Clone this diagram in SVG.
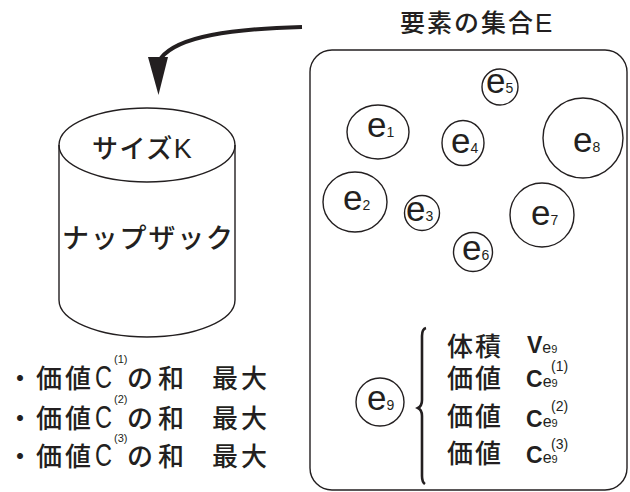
<svg xmlns="http://www.w3.org/2000/svg" width="630" height="492" viewBox="0 0 630 492">
<style>
.ln{fill:none;stroke:#231f20;stroke-width:1.4}
.jp{font-family:"Noto Sans CJK JP","Liberation Sans",sans-serif;font-weight:500;fill:#231f20}
.la{font-family:"Liberation Sans",Arial,sans-serif;fill:#231f20}
.e{font-family:"Liberation Sans",Arial,sans-serif;font-size:35px;fill:#231f20}
.d{font-size:14px}
.b{font-size:23px;font-weight:bold}
.s{font-size:16px;font-weight:normal}
.n{font-size:11px;font-weight:normal}
</style>
<rect width="630" height="492" fill="#fff"/>
<g id="connectors">
<path d="M302 27 C232 29 178 36 161 58" fill="none" stroke="#231f20" stroke-width="4"/>
<polygon points="148,57 168,57 158.5,95" fill="#231f20"/>
</g>
<g id="label-E"><text class="jp" x="400" y="32" font-size="25" letter-spacing="2">要素の集合<tspan class="la" font-weight="normal" font-size="26">E</tspan></text></g>
<g id="knapsack">
<path class="ln" d="M59 145 L59 300 A88 37 0 0 0 235 300 L235 145"/>
<ellipse class="ln" cx="147" cy="145" rx="88" ry="37"/>
<text class="jp" x="92" y="158" font-size="26" letter-spacing="1.5">サイズ<tspan class="la" font-weight="normal" font-size="27">K</tspan></text>
<text class="jp" x="62" y="248" font-size="27" letter-spacing="1.8">ナップザック</text>
</g>
<g id="objectives">
<text class="jp" x="7" y="388" font-size="26">・</text>
<text class="jp" x="36" y="388" font-size="26" letter-spacing="3">価値</text>
<text class="la" x="95" y="388" font-size="31" textLength="17" lengthAdjust="spacingAndGlyphs">C</text>
<text class="la" x="114" y="363" font-size="11">(1)</text>
<text class="jp" x="127" y="388" font-size="26" letter-spacing="5">の和</text>
<text class="jp" x="212" y="388" font-size="26" letter-spacing="3">最大</text>
<text class="jp" x="7" y="428" font-size="26">・</text>
<text class="jp" x="36" y="428" font-size="26" letter-spacing="3">価値</text>
<text class="la" x="95" y="428" font-size="31" textLength="17" lengthAdjust="spacingAndGlyphs">C</text>
<text class="la" x="114" y="403" font-size="11">(2)</text>
<text class="jp" x="127" y="428" font-size="26" letter-spacing="5">の和</text>
<text class="jp" x="212" y="428" font-size="26" letter-spacing="3">最大</text>
<text class="jp" x="7" y="466" font-size="26">・</text>
<text class="jp" x="36" y="466" font-size="26" letter-spacing="3">価値</text>
<text class="la" x="95" y="466" font-size="31" textLength="17" lengthAdjust="spacingAndGlyphs">C</text>
<text class="la" x="114" y="442" font-size="11">(3)</text>
<text class="jp" x="127" y="466" font-size="26" letter-spacing="5">の和</text>
<text class="jp" x="212" y="466" font-size="26" letter-spacing="3">最大</text>
</g>
<g id="set-E"><rect class="ln" x="310" y="50" width="317" height="440" rx="22"/></g>
<g id="e1"><ellipse class="ln" cx="378" cy="132" rx="31" ry="27"/><text class="e" x="367" y="137">e<tspan class="d">1</tspan></text></g>
<g id="e2"><ellipse class="ln" cx="355" cy="202" rx="32" ry="30"/><text class="e" x="343" y="210">e<tspan class="d">2</tspan></text></g>
<g id="e3"><circle class="ln" cx="422" cy="213" r="17.5"/><text class="e" x="406" y="221">e<tspan class="d">3</tspan></text></g>
<g id="e4"><ellipse class="ln" cx="463" cy="143" rx="21" ry="22.5"/><text class="e" x="451" y="153">e<tspan class="d">4</tspan></text></g>
<g id="e5"><circle class="ln" cx="500" cy="87" r="18"/><text class="e" x="486" y="93">e<tspan class="d">5</tspan></text></g>
<g id="e6"><circle class="ln" cx="473" cy="252" r="19.5"/><text class="e" x="462" y="260">e<tspan class="d">6</tspan></text></g>
<g id="e7"><circle class="ln" cx="542" cy="215" r="32"/><text class="e" x="531" y="225">e<tspan class="d">7</tspan></text></g>
<g id="e8"><circle class="ln" cx="583" cy="138" r="40"/><text class="e" x="573" y="152">e<tspan class="d">8</tspan></text></g>
<g id="e9"><circle class="ln" cx="380" cy="402" r="24"/><text class="e" x="367" y="410">e<tspan class="d">9</tspan></text></g>
<g id="e9-attrs">
<path d="M426 328 Q422 329 422 336 L422 400 Q422 406 418 408 Q422 410 422 416 L422 476 Q422 482 425 484" fill="none" stroke="#231f20" stroke-width="2.6"/>
<text class="jp" x="447" y="356" font-size="26" letter-spacing="2">体積</text>
<text class="la b" x="527" y="353">V<tspan class="s">e</tspan><tspan class="n">9</tspan></text>
<text class="jp" x="447" y="388" font-size="26" letter-spacing="2">価値</text>
<text class="la b" x="526" y="387">C<tspan class="s">e</tspan><tspan class="n">9</tspan></text>
<text class="la" x="551" y="371" font-size="14">(1)</text>
<text class="jp" x="447" y="426" font-size="26" letter-spacing="2">価値</text>
<text class="la b" x="526" y="427">C<tspan class="s">e</tspan><tspan class="n">9</tspan></text>
<text class="la" x="551" y="411" font-size="14">(2)</text>
<text class="jp" x="447" y="463" font-size="26" letter-spacing="2">価値</text>
<text class="la b" x="526" y="463">C<tspan class="s">e</tspan><tspan class="n">9</tspan></text>
<text class="la" x="551" y="449" font-size="14">(3)</text>
</g>
</svg>
